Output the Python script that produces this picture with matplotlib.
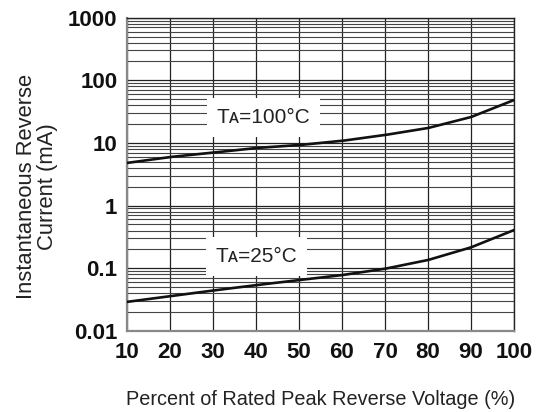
import numpy as np
import matplotlib.pyplot as plt
from matplotlib.ticker import LogLocator, FixedLocator, NullFormatter

plt.rcParams['font.family'] = ['Liberation Sans', 'DejaVu Sans']

# Percent of rated peak reverse voltage (%)
voltage_pct = [10, 20, 30, 40, 50, 60, 70, 80, 90, 100]
# Instantaneous reverse current (mA)
current_100c = [4.8, 5.96, 7.0, 8.3, 9.25, 10.8, 13.4, 17.3, 25.9, 48.4]
current_25c = [0.029, 0.0358, 0.044, 0.0537, 0.0645, 0.0776, 0.098, 0.135, 0.215, 0.406]

x_ticks = [10, 20, 30, 40, 50, 60, 70, 80, 90, 100]
y_ticks = [0.01, 0.1, 1, 10, 100, 1000]
y_tick_labels = ['0.01', '0.1', '1', '10', '100', '1000']

fig = plt.figure(figsize=(5.37, 4.12), dpi=100)
ax = fig.add_axes([0.2365, 0.197, 0.957 - 0.2365, 0.957 - 0.197])

# smooth curve through the read points (interpolate in log space)
xs = np.linspace(10, 100, 200)
for vals in (current_100c, current_25c):
    ys = 10 ** np.interp(xs, voltage_pct, np.log10(vals))
    ax.plot(xs, ys, color='#111111', lw=1.9, zorder=3)

ax.set_yscale('log')
ax.set_xlim(10, 100)
ax.set_ylim(0.01, 1000)

ax.xaxis.set_major_locator(FixedLocator(x_ticks))
ax.set_xticklabels([str(t) for t in x_ticks])
ax.yaxis.set_major_locator(FixedLocator(y_ticks))
ax.set_yticklabels(y_tick_labels)
ax.yaxis.set_minor_locator(LogLocator(base=10, subs=np.arange(2, 10)))
ax.yaxis.set_minor_formatter(NullFormatter())

ax.grid(True, which='major', axis='both', color='#222222', lw=0.9)
ax.grid(True, which='minor', axis='y', color='#444444', lw=0.8)
ax.tick_params(which='both', length=0)
ax.tick_params(axis='x', pad=8, labelsize=16)
ax.tick_params(axis='y', pad=7, labelsize=16)
for lab in ax.get_xticklabels() + ax.get_yticklabels():
    lab.set_fontweight('bold')
    lab.set_color('#111111')

for side in ('left', 'bottom'):
    ax.spines[side].set_color('#888888')
    ax.spines[side].set_linewidth(1.6)
for side in ('top', 'right'):
    ax.spines[side].set_color('#222222')
    ax.spines[side].set_linewidth(1.0)

box = dict(facecolor='white', edgecolor='none', pad=7)
ax.text(41.7, 20.8, 'T\u1d00=100°C', fontsize=15, ha='center',
        va='baseline', color='#222222', bbox=box, zorder=2)
ax.text(40.1, 0.125, 'T\u1d00=25°C', fontsize=15, ha='center',
        va='baseline', color='#222222', bbox=box, zorder=2)

ax.set_ylabel('Instantaneous Reverse\nCurrent (mA)', fontsize=15.8,
              color='#222222', linespacing=1.0)
ax.yaxis.set_label_coords(-0.178, 0.46)
ax.set_xlabel('Percent of Rated Peak Reverse Voltage (%)', fontsize=14.3,
              color='#222222')
ax.xaxis.set_label_coords(0.5, -0.19)

fig.savefig('out.png', dpi=100)
